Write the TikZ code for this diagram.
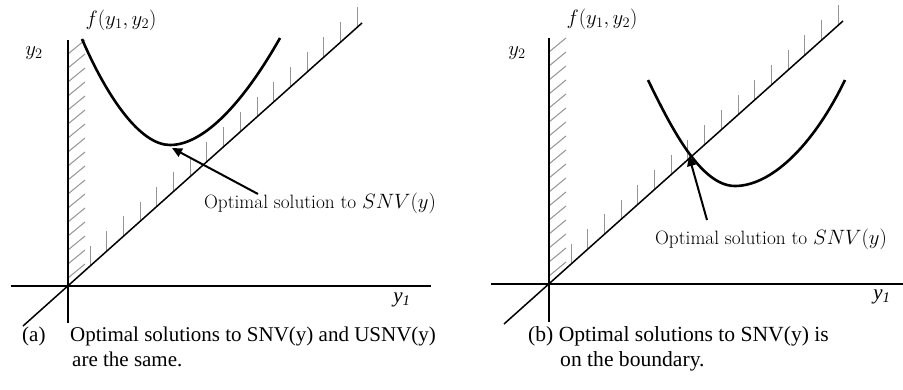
\documentclass[tikz,border=0pt]{standalone}
\usepackage{fontspec}
\newfontfamily\capfont{Liberation Serif}
\usetikzlibrary{arrows.meta}
\begin{document}
\begin{tikzpicture}[x=1pt,y=-1pt,
 axisline/.style={line width=1.6pt},
 fcurve/.style={line width=2.6pt},
 diagline/.style={line width=1.5pt},
 hatchline/.style={black!42, line width=1pt},
 pointer/.style={line width=2pt,-{Triangle[length=10pt,width=9pt]}},
 lbl/.style={font=\fontsize{19.3}{22}\selectfont, inner sep=0pt},
 mlbl/.style={font=\fontsize{21}{24}\selectfont, inner sep=0pt},
 axlbl/.style={font=\capfont\fontsize{21}{24}\selectfont\itshape, inner sep=0pt},
 captext/.style={font=\capfont\fontsize{21}{25}\selectfont, inner sep=0pt, anchor=base west},
 captextb/.style={font=\capfont\fontsize{21.6}{25}\selectfont, inner sep=0pt, anchor=base west},
]
\useasboundingbox (0,0) rectangle (903,389);

% ---------- panel (a) ----------
\coordinate (oa) at (68,286);
\foreach \i in {0,...,16}
  \draw[hatchline] ({90+16.7*\i},{286-0.8946*(22+16.7*\i)}) -- ++(0,-20);
\foreach \j in {0,...,16}
  \draw[hatchline] (68,{278-14*\j}) -- ++(17,-14);
\draw[axisline] (68,40) -- (68,323);
\draw[axisline] (11,286) -- (431,286);
\draw[diagline] (23,326) -- (362,23);
\draw[fcurve] (82,39) .. controls (107,97) and (140,145) .. (170,145)
               .. controls (205,145) and (245,100) .. (280,38);
\coordinate (ta) at (258,194);
\coordinate (ha) at (172,148);
\draw[pointer] (ta) -- (ha);
\node[lbl] (la) at (320,203) {Optimal solution to $SNV(y)$};
\node[mlbl] (fa) at (121,20) {$f(y_1,y_2)$};
\node[mlbl] (y2a) at (34,53) {$y_2$};
\node[axlbl] (y1a) at (402,300) {y\textsubscript{1}};
\node[captext] (ca1) at (22,341) {(a)};
\node[captext] (ca2) at (70,341) {Optimal solutions to SNV(y) and USNV(y)};
\node[captext] (ca3) at (72,366) {are the same.};

% ---------- panel (b) ----------
\coordinate (ob) at (549,284);
\foreach \i in {0,...,16}
  \draw[hatchline] ({571+16.7*\i},{284-0.8946*(22+16.7*\i)}) -- ++(0,-20);
\foreach \j in {0,...,16}
  \draw[hatchline] (549,{276-14*\j}) -- ++(17,-14);
\draw[axisline] (549,38) -- (549,322);
\draw[axisline] (491,284) -- (903,284);
\draw[diagline] (504,324) -- (843,21);
\draw[fcurve] (648,80) .. controls (670,125) and (700,186) .. (735,186)
               .. controls (770,186) and (812,148) .. (845,80);
\coordinate (tb) at (707,220);
\coordinate (hb) at (689,156);
\draw[pointer] (tb) -- (hb);
\node[lbl] (lb) at (771,239) {Optimal solution to $SNV(y)$};
\node[mlbl] (fb) at (602,19) {$f(y_1,y_2)$};
\node[mlbl] (y2b) at (517,53) {$y_2$};
\node[axlbl] (y1b) at (882,297) {y\textsubscript{1}};
\node[captextb] (cb1) at (528,341) {(b) Optimal solutions to SNV(y) is};
\node[captextb] (cb2) at (560,366) {on the boundary.};
\end{tikzpicture}
\end{document}
